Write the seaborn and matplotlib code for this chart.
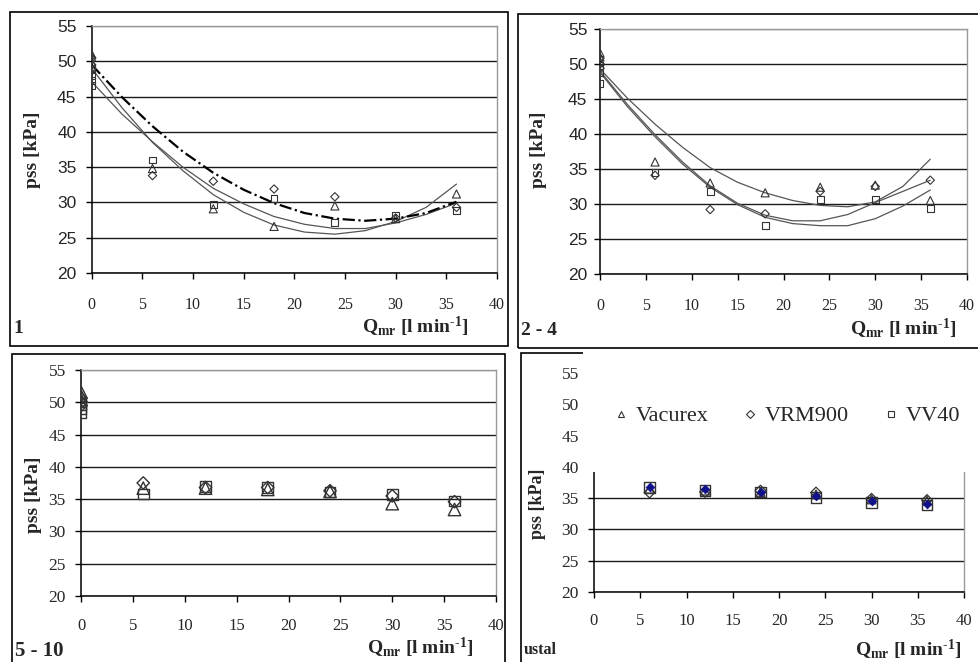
import matplotlib.pyplot as plt
import seaborn as sns
from matplotlib.lines import Line2D
from matplotlib.patches import Rectangle

W, H = 979, 662

# ---- data ----
x6 = [6, 12, 18, 24, 30, 36]
x_rep = [0, 0, 0] + x6
x_rep4 = [0, 0, 0, 0] + x6
curve_x = [0, 3, 6, 9, 12, 15, 18, 21, 24, 27, 30, 33, 36]

# panel "1"
p1_vacurex = [51.0, 50.6, 49.8, 34.8, 29.1, 26.6, 29.5, 27.7, 31.2]
p1_vrm900 = [50.5, 49.5, 48.9, 33.8, 33.0, 31.9, 30.8, 27.8, 29.3]
p1_vv40 = [48.8, 48.0, 47.3, 46.6, 36.0, 29.7, 30.5, 27.1, 28.1, 28.9]
p1_fit_dash = [49.5, 44.9, 40.8, 37.2, 34.2, 31.8, 29.9, 28.5, 27.7, 27.4, 27.7, 28.5, 30.1]
p1_fit_a = [49.0, 43.4, 38.5, 34.5, 31.1, 28.6, 26.8, 25.8, 25.5, 26.0, 27.3, 29.3, 32.6]
p1_fit_b = [47.1, 42.5, 38.6, 35.0, 32.0, 29.8, 28.0, 26.9, 26.3, 26.3, 27.1, 28.3, 29.9]

# panel "2 - 4"
p2_vacurex = [51.6, 51.0, 50.4, 36.0, 33.0, 31.6, 32.4, 32.7, 30.5]
p2_vrm900 = [50.8, 50.0, 49.4, 34.1, 29.2, 28.6, 31.8, 32.5, 33.4]
p2_vv40 = [49.8, 48.8, 47.2, 34.5, 31.8, 26.9, 30.6, 30.7, 29.3]
p2_fit_a = [49.3, 45.1, 41.4, 38.1, 35.2, 33.1, 31.6, 30.5, 29.8, 29.6, 30.3, 32.5, 36.4]
p2_fit_b = [49.0, 44.2, 39.9, 36.0, 32.6, 30.1, 28.4, 27.6, 27.6, 28.5, 30.2, 31.8, 33.4]
p2_fit_c = [48.8, 43.9, 39.6, 35.7, 32.4, 29.9, 28.1, 27.2, 26.9, 26.9, 27.9, 29.7, 32.0]

# panel "5 - 10"
p3_vacurex = [51.6, 51.0, 50.4, 36.7, 36.7, 36.5, 36.2, 34.3, 33.4]
p3_vrm900 = [50.6, 50.0, 49.5, 37.5, 36.8, 36.8, 36.3, 35.5, 34.6]
p3_vv40 = [49.6, 49.0, 48.4, 35.8, 36.9, 36.8, 36.1, 35.7, 34.7]

# panel "ustal"
p4_vacurex = [36.5, 36.2, 36.0, 35.6, 34.8, 34.6]
p4_vrm900 = [35.9, 36.0, 36.2, 35.9, 34.9, 34.7]
p4_vv40 = [36.7, 36.2, 36.0, 35.1, 34.3, 33.9]
p4_mean = [36.8, 36.4, 36.0, 35.3, 34.5, 34.0]

series_names = ["Vacurex", "VRM900", "VV40"]
x_ticks = [0, 5, 10, 15, 20, 25, 30, 35, 40]
y_ticks = [20, 25, 30, 35, 40, 45, 50, 55]

# ---- styling ----
sns.set_theme(style="white")
plt.rcParams["font.family"] = ["Liberation Serif", "DejaVu Serif"]
plt.rcParams["mathtext.fontset"] = "custom"
plt.rcParams["mathtext.rm"] = "Liberation Serif:bold"
plt.rcParams["mathtext.bf"] = "Liberation Serif:bold"
plt.rcParams["mathtext.it"] = "Liberation Serif:bold:italic"

fig = plt.figure(figsize=(W / 100, H / 100), dpi=100)
fig.patch.set_facecolor("white")

EDGE = "#333333"


def px_axes(l, r, t, b):
    return fig.add_axes([l / W, 1 - b / H, (r - l) / W, (b - t) / H])


def frame(l, t, r, b, z=2):
    fig.add_artist(Rectangle((l / W, 1 - b / H), (r - l) / W, (b - t) / H,
                             transform=fig.transFigure, fill=False,
                             ec="black", lw=1.2, zorder=z))


def style_axes(ax, xpad, ypad, sans_y, fs_x, fs_y):
    ax.set_xlim(0, 40)
    ax.set_ylim(20, 55)
    ax.set_xticks(x_ticks)
    ax.set_yticks(y_ticks)
    ax.yaxis.grid(True, color="#1a1a1a", lw=1.0)
    ax.get_ygridlines()[-1].set_color("#888888")
    ax.xaxis.grid(False)
    for s in ["left", "bottom"]:
        ax.spines[s].set_color("black")
        ax.spines[s].set_linewidth(1.1)
    for s in ["top", "right"]:
        ax.spines[s].set_color("#999999")
        ax.spines[s].set_linewidth(1.0)
    ax.tick_params(axis="x", direction="out", length=4, width=1, color="black",
                   pad=xpad, labelsize=fs_x, bottom=True)
    ax.tick_params(axis="y", direction="out", length=4, width=1, color="black",
                   pad=ypad, labelsize=fs_y, left=True)
    for lab in ax.get_yticklabels():
        lab.set_family("Liberation Sans" if sans_y else "Liberation Serif")
    for lab in ax.get_xticklabels():
        lab.set_family("Liberation Serif")
    ax.set_xlabel("")
    ax.set_facecolor("white")


def points(ax, xs, ys, marker, s, lw=0.8):
    sns.scatterplot(x=xs, y=ys, marker=marker, s=s, facecolor="none",
                    edgecolor=EDGE, linewidth=lw, ax=ax, zorder=4)


def curve(ax, ys, **kw):
    sns.lineplot(x=curve_x, y=ys, ax=ax, zorder=3, **kw)


def ylabel(ax, xpx, ypx, size):
    # xpx is the centre of the rotated label; ylabel anchors on its right side
    ax.set_ylabel("pss [kPa]", fontsize=size, fontweight="bold",
                  family="Liberation Serif")
    ax.yaxis.set_label_coords((xpx + 9) / W, 1 - ypx / H, transform=fig.transFigure)


def qlabel(xpx, ypx):
    fig.text(xpx / W, 1 - ypx / H, r"Q$_{\rm mr}$ [l min$^{\text{-1}}$]",
             fontsize=14, fontweight="bold", ha="left", va="baseline")


def tag(txt, xpx, ypx, size=14):
    fig.text(xpx / W, 1 - ypx / H, txt, fontsize=size, fontweight="bold",
             ha="left", va="baseline")


# ---- panel 1 ----
frame(10, 12, 508, 346)
ax1 = px_axes(91.7, 497, 26, 273)
curve(ax1, p1_fit_a, color="#555555", lw=0.9)
curve(ax1, p1_fit_b, color="#555555", lw=0.9)
curve(ax1, p1_fit_dash, color="black", lw=1.6, linestyle=(0, (5.5, 1.6, 1.0, 1.6)))
points(ax1, x_rep, p1_vacurex, "^", 34)
points(ax1, x_rep, p1_vrm900, "D", 18)
points(ax1, x_rep4, p1_vv40, "s", 24)
style_axes(ax1, 13.5, 7, True, 11.5, 12.5)
ylabel(ax1, 32, 150, 14)
tag("1", 13, 333)
qlabel(362, 333)

# ---- panel 2 ----
frame(518, 14, 990, 348)
ax2 = px_axes(600, 967, 29, 274)
curve(ax2, p2_fit_a, color="#555555", lw=0.9)
curve(ax2, p2_fit_b, color="#555555", lw=0.9)
curve(ax2, p2_fit_c, color="#555555", lw=0.9)
points(ax2, x_rep, p2_vacurex, "^", 34)
points(ax2, x_rep, p2_vrm900, "D", 18)
points(ax2, x_rep, p2_vv40, "s", 24)
style_axes(ax2, 13.5, 5, True, 11.5, 12.5)
ylabel(ax2, 538, 150, 14)
tag("2 - 4", 521, 335)
qlabel(850, 335)

# ---- panel 3 ----
frame(12, 354, 505, 675)
ax3 = px_axes(81, 496, 370, 596)
points(ax3, x_rep, p3_vacurex, "^", 80, 1.0)
points(ax3, x_rep, p3_vrm900, "D", 40, 1.0)
points(ax3, x_rep, p3_vv40, "s", 60, 1.0)
style_axes(ax3, 11.5, 7, False, 12, 12.5)
ylabel(ax3, 33, 495, 14)
tag("5 - 10", 15, 656, 15)
qlabel(367, 654)

# ---- panel 4 ----
frame(521, 353, 995, 675)
ax4 = px_axes(594, 964, 373, 592)
points(ax4, x6, p4_vacurex, "^", 40, 0.9)
points(ax4, x6, p4_vrm900, "D", 30, 0.9)
points(ax4, x6, p4_vv40, "s", 55, 1.0)
sns.scatterplot(x=x6, y=p4_mean, marker="D", s=20, color="#10108a",
                edgecolor="#10108a", linewidth=0.5, ax=ax4, zorder=5)
style_axes(ax4, 11, 7, False, 12, 12.5)
ylabel(ax4, 537, 504, 13)
tag("ustal", 524, 654, 11.5)
qlabel(855, 656)

# white legend area covering the top of the last panel
fig.add_artist(Rectangle((583 / W, 1 - 472 / H), (W - 583) / W, (472 - 351) / H,
                         transform=fig.transFigure, fc="white", ec="none", zorder=3))
handles = [
    Line2D([], [], marker="^", ls="", mfc="none", mec=EDGE, ms=5, mew=0.8),
    Line2D([], [], marker="D", ls="", mfc="none", mec=EDGE, ms=3.6, mew=0.8),
    Line2D([], [], marker="s", ls="", mfc="none", mec=EDGE, ms=4.2, mew=0.8),
]
leg = fig.legend(handles, series_names, loc="center left",
                 bbox_to_anchor=(612 / W, 1 - 416 / H), ncol=3, frameon=False,
                 handlelength=0.8, handletextpad=0.25, columnspacing=1.5,
                 borderpad=0, borderaxespad=0,
                 prop={"family": "Liberation Serif", "size": 16})
leg.set_zorder(6)

fig.savefig("out.png", dpi=100, facecolor="white")
